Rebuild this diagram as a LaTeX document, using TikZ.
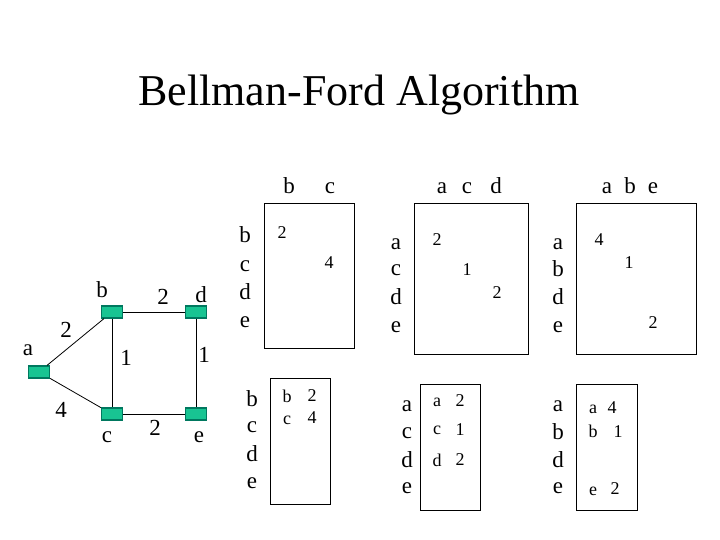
\documentclass[tikz,border=0pt]{standalone}
\usepackage{fontspec}
\setmainfont{Liberation Serif}
\definecolor{nodefill}{RGB}{24,196,146}
\definecolor{nodeedge}{RGB}{0,120,95}
\begin{document}
\begin{tikzpicture}[x=1pt,y=-1pt,
  vtx/.style={draw=nodeedge,fill=nodefill,line width=1.2pt,minimum width=21pt,minimum height=12pt,inner sep=0pt},
  glbl/.style={inner sep=0pt,font=\fontsize{23}{25}\selectfont},
  lbl/.style={inner sep=0pt,font=\fontsize{23}{25}\selectfont},
  ent/.style={inner sep=0pt,font=\fontsize{18}{20}\selectfont},
  edge/.style={line width=0.8pt},
  tbox/.style={line width=1pt}]
\useasboundingbox (0,0) rectangle (720,540);
\node[inner sep=0pt,font=\fontsize{44}{50}\selectfont] (title) at (359,95) {Bellman-Ford Algorithm};
% graph
\node[vtx] (a) at (39,372) {};
\node[vtx] (b) at (112,312) {};
\node[vtx] (d) at (196,312) {};
\node[vtx] (c) at (112,414) {};
\node[vtx] (e) at (196,414) {};
\draw[edge] (a) -- (b);
\draw[edge] (a) -- (c);
\draw[edge] (b) -- (d);
\draw[edge] (b) -- (c);
\draw[edge] (d) -- (e);
\draw[edge] (c) -- (e);
\node[glbl] (la) at (28,350) {a};
\node[glbl] (lb) at (102,290) {b};
\node[glbl] (ld) at (201,295) {d};
\node[glbl] (lc) at (107,437) {c};
\node[glbl] (le) at (199,437) {e};
\node[glbl] (wab) at (66,330) {2};
\node[glbl] (wbd) at (163,297) {2};
\node[glbl] (wbc) at (126,358) {1};
\node[glbl] (wde) at (204,355) {1};
\node[glbl] (wac) at (61,410) {4};
\node[glbl] (wce) at (155,428) {2};
% table 1 upper
\draw[tbox] (264,204) rectangle (354,348);
\node[lbl] (h1b) at (289,186) {b};
\node[lbl] (h1c) at (330,188) {c};
\node[lbl] (r1b) at (245,235) {b};
\node[lbl] (r1c) at (245,266) {c};
\node[lbl] (r1d) at (245,292) {d};
\node[lbl] (r1e) at (245,322) {e};
\node[ent] (t1x) at (282,233) {2};
\node[ent] (t1y) at (329,263) {4};
% table 1 lower
\draw[tbox] (270,378) rectangle (330,504);
\node[lbl] (s1b) at (252,399) {b};
\node[lbl] (s1c) at (252,427) {c};
\node[lbl] (s1d) at (252,454) {d};
\node[lbl] (s1e) at (252,483) {e};
\node[ent] (u1a) at (287,396) {b};
\node[ent] (u1b) at (312,396) {2};
\node[ent] (u1c) at (287,420) {c};
\node[ent] (u1d) at (312,418) {4};
% table 2 upper
\draw[tbox] (414,204) rectangle (528,354);
\node[lbl] (h2a) at (442,188) {a};
\node[lbl] (h2c) at (467,188) {c};
\node[lbl] (h2d) at (496,186) {d};
\node[lbl] (r2a) at (396,244) {a};
\node[lbl] (r2c) at (396,270) {c};
\node[lbl] (r2d) at (396,297) {d};
\node[lbl] (r2e) at (396,327) {e};
\node[ent] (t2x) at (437,240) {2};
\node[ent] (t2y) at (467,270) {1};
\node[ent] (t2z) at (497,293) {2};
% table 2 lower
\draw[tbox] (420,384) rectangle (480,510);
\node[lbl] (s2a) at (407,406) {a};
\node[lbl] (s2c) at (407,433) {c};
\node[lbl] (s2d) at (407,460) {d};
\node[lbl] (s2e) at (407,488) {e};
\node[ent] (u2a) at (437,402) {a};
\node[ent] (u2b) at (460,401) {2};
\node[ent] (u2c) at (437,430) {c};
\node[ent] (u2d) at (460,430) {1};
\node[ent] (u2e) at (437,460) {d};
\node[ent] (u2f) at (460,460) {2};
% table 3 upper
\draw[tbox] (576,204) rectangle (696,354);
\node[lbl] (h3a) at (607,188) {a};
\node[lbl] (h3b) at (630,186) {b};
\node[lbl] (h3e) at (653,188) {e};
\node[lbl] (r3a) at (558,244) {a};
\node[lbl] (r3b) at (558,269) {b};
\node[lbl] (r3d) at (558,297) {d};
\node[lbl] (r3e) at (558,327) {e};
\node[ent] (t3x) at (599,240) {4};
\node[ent] (t3y) at (629,263) {1};
\node[ent] (t3z) at (653,323) {2};
% table 3 lower
\draw[tbox] (576,384) rectangle (637,510);
\node[lbl] (s3a) at (558,406) {a};
\node[lbl] (s3b) at (558,432) {b};
\node[lbl] (s3d) at (558,460) {d};
\node[lbl] (s3e) at (558,488) {e};
\node[ent] (u3a) at (593,409) {a};
\node[ent] (u3b) at (612,408) {4};
\node[ent] (u3c) at (593,431) {b};
\node[ent] (u3d) at (618,432) {1};
\node[ent] (u3e) at (593,491) {e};
\node[ent] (u3f) at (615,489) {2};
\end{tikzpicture}
\end{document}
